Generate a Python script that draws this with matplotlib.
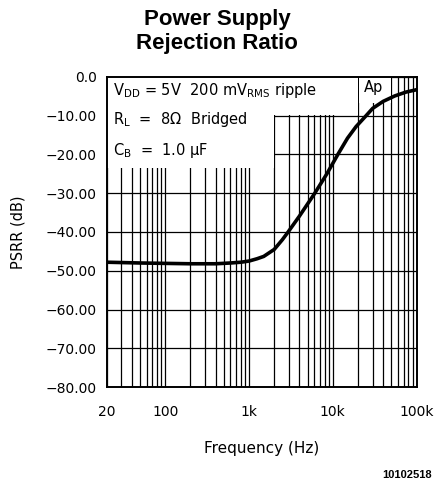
"""PSRR vs frequency, 8 ohm bridged load"""

import matplotlib
matplotlib.use('Agg')
import matplotlib.pyplot as plt
from matplotlib.patches import Rectangle
from matplotlib.ticker import FixedLocator, LogLocator, NullFormatter

plt.rcParams['font.family'] = 'DejaVu Sans'
plt.rcParams['mathtext.default'] = 'regular'

# curve
freq = [20, 50, 100, 200, 400, 600, 800, 1000, 1250, 1500, 2000, 2500, 2930,
        4000, 6100, 8500, 11500, 15000, 19000, 25000, 30000, 40000, 55000,
        75000, 100000]
psrr = [-47.8, -48.0, -48.1, -48.2, -48.2, -48.0, -47.8, -47.5, -46.9, -46.3,
        -44.5, -42.0, -40.0, -35.9, -30.0, -25.0, -20.0, -15.8, -12.8, -10.0,
        -8.1, -6.3, -4.9, -3.9, -3.3]

x_ticks = [20, 100, 1000, 10000, 100000]
x_labels = ['20', '100', '1k', '10k', '100k']
y_ticks = [0, -10, -20, -30, -40, -50, -60, -70, -80]
y_labels = ['0.0', '\u221210.00', '\u221220.00', '\u221230.00', '\u221240.00',
            '\u221250.00', '\u221260.00', '\u221270.00', '\u221280.00']

fig = plt.figure(figsize=(4.34, 4.87), dpi=100)
ax = fig.add_axes([0.2459, 0.2053, 0.7138, 0.6367])

ax.set_xscale('log')
ax.set_xlim(20, 100000)
ax.set_ylim(-80, 0)

ax.xaxis.set_major_locator(FixedLocator(x_ticks))
ax.set_xticklabels(x_labels)
ax.xaxis.set_minor_locator(LogLocator(base=10, subs=range(1, 10), numticks=20))
ax.xaxis.set_minor_formatter(NullFormatter())
ax.set_yticks(y_ticks)
ax.set_yticklabels(y_labels)
ax.tick_params(which='both', length=0, labelsize=10)
ax.tick_params(axis='x', pad=13)
ax.tick_params(axis='y', pad=7)

ax.grid(True, which='both', axis='x', color='black', lw=0.9)
ax.grid(True, which='major', axis='y', color='black', lw=0.9)
for s in ax.spines.values():
    s.set_linewidth(1.4)

# blank areas behind the notes
ax.add_patch(Rectangle((20, -23.5), 1980 - 20, 23.5, facecolor='white', edgecolor='none', zorder=2))
ax.add_patch(Rectangle((1980, -9.7), 19800 - 1980, 9.7, facecolor='white', edgecolor='none', zorder=2))
ax.add_patch(Rectangle((20300, -6.8), 49500 - 20300, 6.8, facecolor='white', edgecolor='none', zorder=2))

ax.plot(freq, psrr, color='black', lw=2.6, solid_capstyle='round', zorder=3)

ax.text(24, -3.6, r'V$_{DD}$ = 5V  200 mV$_{RMS}$ ripple', fontsize=10.5, va='center', zorder=4)
ax.text(24, -11.0, r'R$_L$  =  8$\Omega$  Bridged', fontsize=10.5, va='center', zorder=4)
ax.text(24, -19.0, r'C$_B$  =  1.0 $\mu$F', fontsize=10.5, va='center', zorder=4)
ax.text(31000, -2.6, 'Ap', fontsize=10.5, va='center', ha='center', zorder=4)

fig.text(0.5, 0.959, 'Power Supply', ha='center', va='center',
         fontsize=16, fontweight='bold', family='Liberation Sans')
fig.text(0.5, 0.911, 'Rejection Ratio', ha='center', va='center',
         fontsize=16, fontweight='bold', family='Liberation Sans')
fig.text(0.041, 0.524, 'PSRR (dB)', rotation=90, ha='center', va='center', fontsize=10.5)
fig.text(0.603, 0.080, 'Frequency (Hz)', ha='center', va='center', fontsize=11)
fig.text(0.995, 0.025, '10102518', ha='right', va='center',
         fontsize=8, fontweight='bold', family='Liberation Sans')

fig.savefig('out.png', dpi=100)
